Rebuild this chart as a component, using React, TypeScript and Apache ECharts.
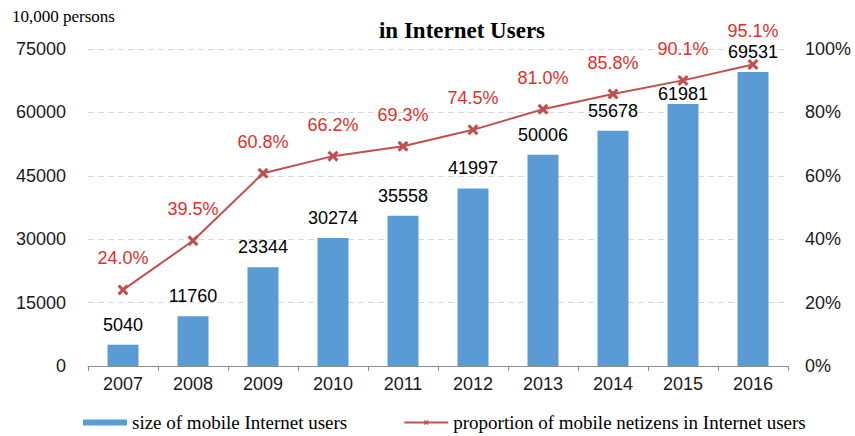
import React, { useEffect, useRef } from "react";
import * as echarts from "echarts";

const years = ["2007", "2008", "2009", "2010", "2011", "2012", "2013", "2014", "2015", "2016"];
const mobileUsers = [5040, 11760, 23344, 30274, 35558, 41997, 50006, 55678, 61981, 69531];
const mobileShare = [24.0, 39.5, 60.8, 66.2, 69.3, 74.5, 81.0, 85.8, 90.1, 95.1];

const titleText = "in Internet Users";
const unitText = "10,000 persons";
const barName = "size of mobile Internet users";
const lineName = "proportion of mobile netizens in Internet users";

const crossPath =
  "path://M2,0 L5,3 L8,0 L10,2 L7,5 L10,8 L8,10 L5,7 L2,10 L0,8 L3,5 L0,2 Z";

export default function App() {
  const ref = useRef<HTMLDivElement>(null);
  useEffect(() => {
    if (!ref.current) return;
    const chart = echarts.init(ref.current, null, { renderer: "svg" });
    const serif = "'Liberation Serif', 'Times New Roman', serif";
    const sans = "'Liberation Sans', Arial, sans-serif";
    const barData = mobileUsers.map((v, i) =>
      i === 8 ? { value: v, label: { distance: 1 } } : v
    );
    const lineData = mobileShare.map((v, i) =>
      i === 9 ? { value: v, label: { distance: 19 } } : v
    );
    chart.setOption({
      animation: false,
      backgroundColor: "#ffffff",
      grid: { left: 88, right: 67, top: 49, bottom: 70, containLabel: false },
      graphic: [
        {
          type: "text",
          left: 12,
          top: 8,
          style: { text: unitText, font: `17px ${serif}`, fill: "#000" },
        },
        {
          type: "text",
          x: 462,
          y: 30,
          style: {
            text: titleText,
            font: `bold 23px ${serif}`,
            fill: "#000",
            align: "center",
            verticalAlign: "middle",
          },
        },
      ],
      legend: {
        left: 83,
        top: 413,
        padding: 0,
        itemWidth: 44,
        itemHeight: 6,
        itemGap: 56,
        textStyle: { fontFamily: serif, fontSize: 19, color: "#000" },
        data: [
          { name: barName, icon: "rect" },
          { name: lineName },
        ],
      },
      xAxis: {
        type: "category",
        data: years,
        axisLine: { lineStyle: { color: "#8c8c8c", width: 1 } },
        axisTick: { show: true, length: 5, lineStyle: { color: "#8c8c8c" } },
        axisLabel: { color: "#1a1a1a", fontSize: 18, fontFamily: sans, margin: 9 },
      },
      yAxis: [
        {
          type: "value",
          min: 0,
          max: 75000,
          interval: 15000,
          axisLine: { show: false },
          axisTick: { show: false },
          axisLabel: {
            color: "#1a1a1a",
            fontSize: 18,
            fontFamily: sans,
            margin: 22,
            formatter: (v: number) => String(v),
          },
          splitLine: { lineStyle: { color: "#d9d9d9", type: [6, 4] } },
        },
        {
          type: "value",
          min: 0,
          max: 100,
          interval: 20,
          axisLine: { show: false },
          axisTick: { show: false },
          axisLabel: {
            color: "#1a1a1a",
            fontSize: 18,
            fontFamily: sans,
            margin: 17,
            formatter: "{value}%",
          },
          splitLine: { show: false },
        },
      ],
      series: [
        {
          name: barName,
          type: "bar",
          data: barData,
          barWidth: 31,
          itemStyle: { color: "#5b9bd5" },
          label: {
            show: true,
            position: "top",
            distance: 11,
            color: "#000",
            fontSize: 18,
            fontFamily: sans,
          },
          z: 2,
        },
        {
          name: lineName,
          type: "line",
          yAxisIndex: 1,
          data: lineData,
          symbol: crossPath,
          symbolSize: 11,
          lineStyle: { color: "#c0504d", width: 2 },
          itemStyle: { color: "#c0504d" },
          label: {
            show: true,
            position: "top",
            distance: 17,
            color: "#e0302a",
            fontSize: 18,
            fontFamily: sans,
            formatter: (p: any) => Number(p.value).toFixed(1) + "%",
          },
          z: 3,
        },
      ],
    });
    return () => chart.dispose();
  }, []);
  return (
    <div
      ref={ref}
      style={{ position: "absolute", left: 0, top: 0, width: 855, height: 436 }}
    />
  );
}
